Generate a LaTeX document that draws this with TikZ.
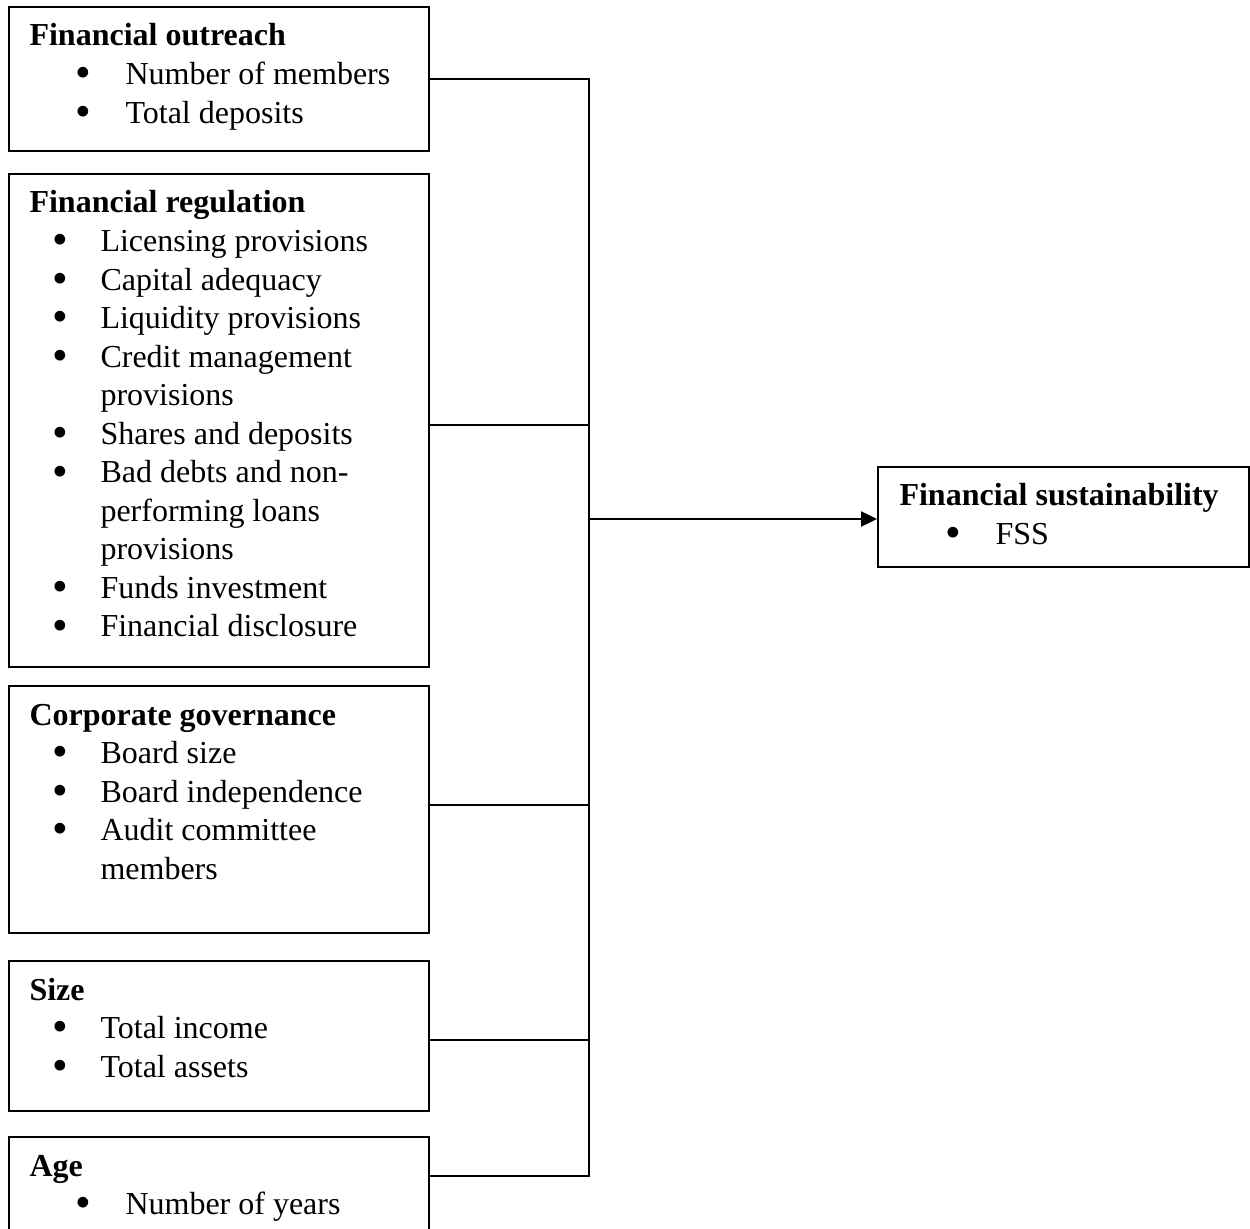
\documentclass[tikz,border=0pt]{standalone}
\usepackage{fontspec}
\usepackage{graphicx}
\setmainfont{Liberation Serif}
\usetikzlibrary{arrows.meta}
\newcommand\bigbul{\makebox[0pt]{\raisebox{-1.3pt}[0pt][0pt]{\scalebox{1.4}{\textbullet}}}}
\newcommand\bulA[1]{\hspace*{20.25pt}\bigbul\hspace*{15.75pt}#1}
\newcommand\bulB[1]{\hspace*{11.625pt}\bigbul\hspace*{15pt}#1}
\newcommand\conB[1]{\hspace*{26.625pt}#1}
\begin{document}
\begin{tikzpicture}[x=0.375pt,y=-0.375pt,
  box/.style={draw,line width=0.75pt,rectangle,inner sep=0pt,anchor=north west},
  txt/.style={anchor=base west,inner sep=0pt,font=\fontsize{12}{14.44}\selectfont},
  conn/.style={line width=0.75pt},
  arr/.style={line width=1pt,-{Triangle[length=6pt,width=5.6pt]}}]
\useasboundingbox (0,0) rectangle (1250,1229);
\clip (0,0) rectangle (1250,1229);

% boxes
\node[box,minimum width=157.5pt,minimum height=54pt] (b1) at (8,6) {};
\node[box,minimum width=157.5pt,minimum height=184.875pt] (b2) at (8,173) {};
\node[box,minimum width=157.5pt,minimum height=92.625pt] (b3) at (8,685) {};
\node[box,minimum width=157.5pt,minimum height=56.25pt] (b4) at (8,960) {};
\node[box,minimum width=157.5pt,minimum height=42pt] (b5) at (8,1136) {};
\node[box,minimum width=139.125pt,minimum height=37.5pt] (fss) at (877,466) {};

% texts
\node[txt] (t1) at (29,46) {\begin{tabular}[t]{@{}l@{}}
\textbf{Financial outreach}\\
\bulA{Number of members}\\
\bulA{Total deposits}
\end{tabular}};
\node[txt] (t2) at (29,213) {\begin{tabular}[t]{@{}l@{}}
\textbf{Financial regulation}\\
\bulB{Licensing provisions}\\
\bulB{Capital adequacy}\\
\bulB{Liquidity provisions}\\
\bulB{Credit management}\\
\conB{provisions}\\
\bulB{Shares and deposits}\\
\bulB{Bad debts and non-}\\
\conB{performing loans}\\
\conB{provisions}\\
\bulB{Funds investment}\\
\bulB{Financial disclosure}
\end{tabular}};
\node[txt] (t3) at (29,725) {\begin{tabular}[t]{@{}l@{}}
\textbf{Corporate governance}\\
\bulB{Board size}\\
\bulB{Board independence}\\
\bulB{Audit committee}\\
\conB{members}
\end{tabular}};
\node[txt] (t4) at (29,1000) {\begin{tabular}[t]{@{}l@{}}
\textbf{Size}\\
\bulB{Total income}\\
\bulB{Total assets}
\end{tabular}};
\node[txt] (t5) at (29,1176) {\begin{tabular}[t]{@{}l@{}}
\textbf{Age}\\
\bulA{Number of years}
\end{tabular}};
\node[txt] (t6) at (899,506) {\begin{tabular}[t]{@{}l@{}}
\textbf{Financial sustainability}\\
\bulA{FSS}
\end{tabular}};

% junctions
\coordinate (j1) at (589,79);
\coordinate (j2) at (589,425);
\coordinate (j3) at (589,805);
\coordinate (j4) at (589,1040);
\coordinate (j5) at (589,1176);
\coordinate (jm) at (589,519);

% connectors
\draw[conn] (b1.east |- j1) -- (j1) -- (j5) -- (b5.east |- j5);
\draw[conn] (b2.east |- j2) -- (j2);
\draw[conn] (b3.east |- j3) -- (j3);
\draw[conn] (b4.east |- j4) -- (j4);
\draw[arr] (jm) -- (fss.west |- jm);
\end{tikzpicture}
\end{document}
